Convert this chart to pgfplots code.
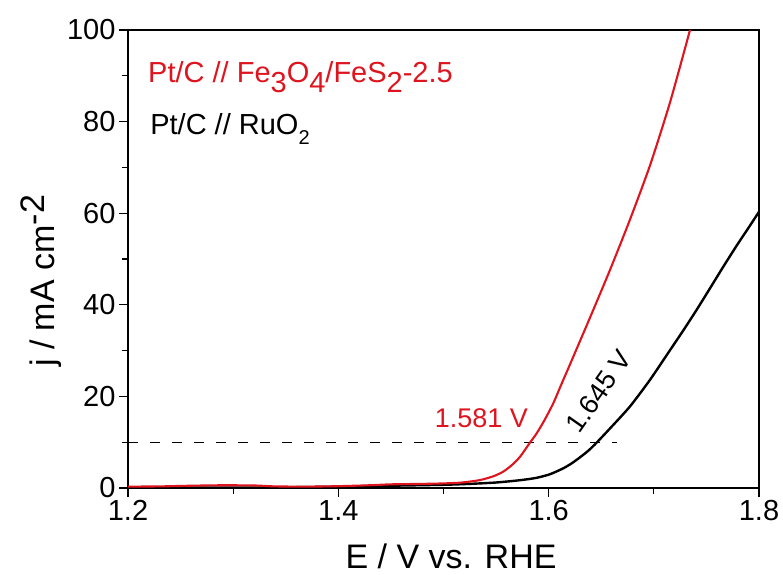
\documentclass[border=0pt]{standalone}
\usepackage{fontspec}
\setmainfont{Liberation Sans}
\usepackage{pgfplots}
\pgfplotsset{compat=1.18}
\definecolor{lsvred}{RGB}{222,20,30}

% LSV data
\pgfplotstableread{
E j
1.200 0.3
1.230 0.35
1.260 0.5
1.290 0.6
1.320 0.55
1.340 0.35
1.370 0.3
1.400 0.4
1.430 0.6
1.450 0.8
1.480 0.9
1.500 1.0
1.515 1.15
1.525 1.4
1.534 1.7
1.541 2.1
1.549 2.7
1.557 3.6
1.565 5.0
1.5727 6.8
1.5822 9.9
1.5885 11.9
1.596 14.8
1.6044 18.5
1.612 22.6
1.6203 27.0
1.6393 37.2
1.6583 47.6
1.6773 58.6
1.6963 70.4
1.7154 84.2
1.7344 100.0
}\redlsv

\pgfplotstableread{
E j
1.200 0.1
1.300 0.1
1.350 0.15
1.400 0.3
1.450 0.5
1.500 0.7
1.525 0.9
1.550 1.2
1.5727 1.7
1.588 2.2
1.6012 3.0
1.6139 4.3
1.622 5.4
1.6298 6.7
1.638 8.2
1.6456 9.9
1.6583 13.0
1.6773 17.8
1.6963 23.6
1.7154 30.1
1.7280 34.4
1.7407 38.9
1.7534 43.6
1.7660 48.3
1.7790 53.0
1.7900 56.8
1.8000 60.3
}\blacklsv

\begin{document}
\begin{tikzpicture}
\begin{axis}[
    scale only axis,
    width=631bp, height=458bp,
    xmin=1.2, xmax=1.8,
    ymin=0, ymax=100,
    xtick={1.2,1.4,1.6,1.8},
    minor xtick={1.3,1.5,1.7},
    ytick={0,20,40,60,80,100},
    minor ytick={10,30,50,70,90},
    tick align=outside,
    tick pos=left,
    major tick length=9bp,
    minor tick length=6bp,
    axis line style={line width=1.6bp},
    every tick/.style={black, line width=1.3bp},
    ticklabel style={font=\fontsize{29bp}{34bp}\selectfont},
    xticklabel style={/pgf/number format/.cd, fixed, fixed zerofill, precision=1},
    /pgf/number format/assume math mode=true,
    xlabel={E / V vs. RHE},
    ylabel={j / mA cm\raisebox{10bp}{-2}},
    label style={font=\fontsize{34bp}{40bp}\selectfont},
    xlabel style={at={(axis description cs:0.512,-0.1747)}, anchor=base},
    ylabel style={at={(axis description cs:-0.1157,0.452)}, anchor=base},
]
\addplot[black, line width=1.3bp, dash pattern=on 10bp off 12bp] coordinates {(1.2,10) (1.665,10)};
\addplot[black, line width=2.4bp, smooth, tension=0.4] table[x=E, y=j] {\blacklsv};
\addplot[lsvred, line width=2.1bp, smooth, tension=0.4] table[x=E, y=j] {\redlsv};

\node[anchor=base west, text=lsvred, inner sep=0pt, font=\fontsize{29bp}{34bp}\selectfont]
    at (axis cs:1.219,88.6) {Pt/C // Fe\raisebox{-10bp}{3}O\raisebox{-10bp}{4}/FeS\raisebox{-10bp}{2}-2.5};
\node[anchor=base west, text=black, inner sep=0pt, font=\fontsize{29bp}{34bp}\selectfont]
    at (axis cs:1.221,77.1) {Pt/C // RuO\raisebox{-10bp}{\fontsize{20bp}{24bp}\selectfont 2}};
\node[anchor=base, text=lsvred, inner sep=0pt, font=\fontsize{27bp}{32bp}\selectfont]
    at (axis cs:1.536,13.3) {1.581 V};
\node[anchor=center, rotate=55, text=black, inner sep=0pt, font=\fontsize{27bp}{32bp}\selectfont]
    at (axis cs:1.6478,21.1) {1.645 V};
\end{axis}
\pgfresetboundingbox
\path[use as bounding box] (-128bp,-87bp) rectangle (655bp,488bp);
\end{tikzpicture}
\end{document}
